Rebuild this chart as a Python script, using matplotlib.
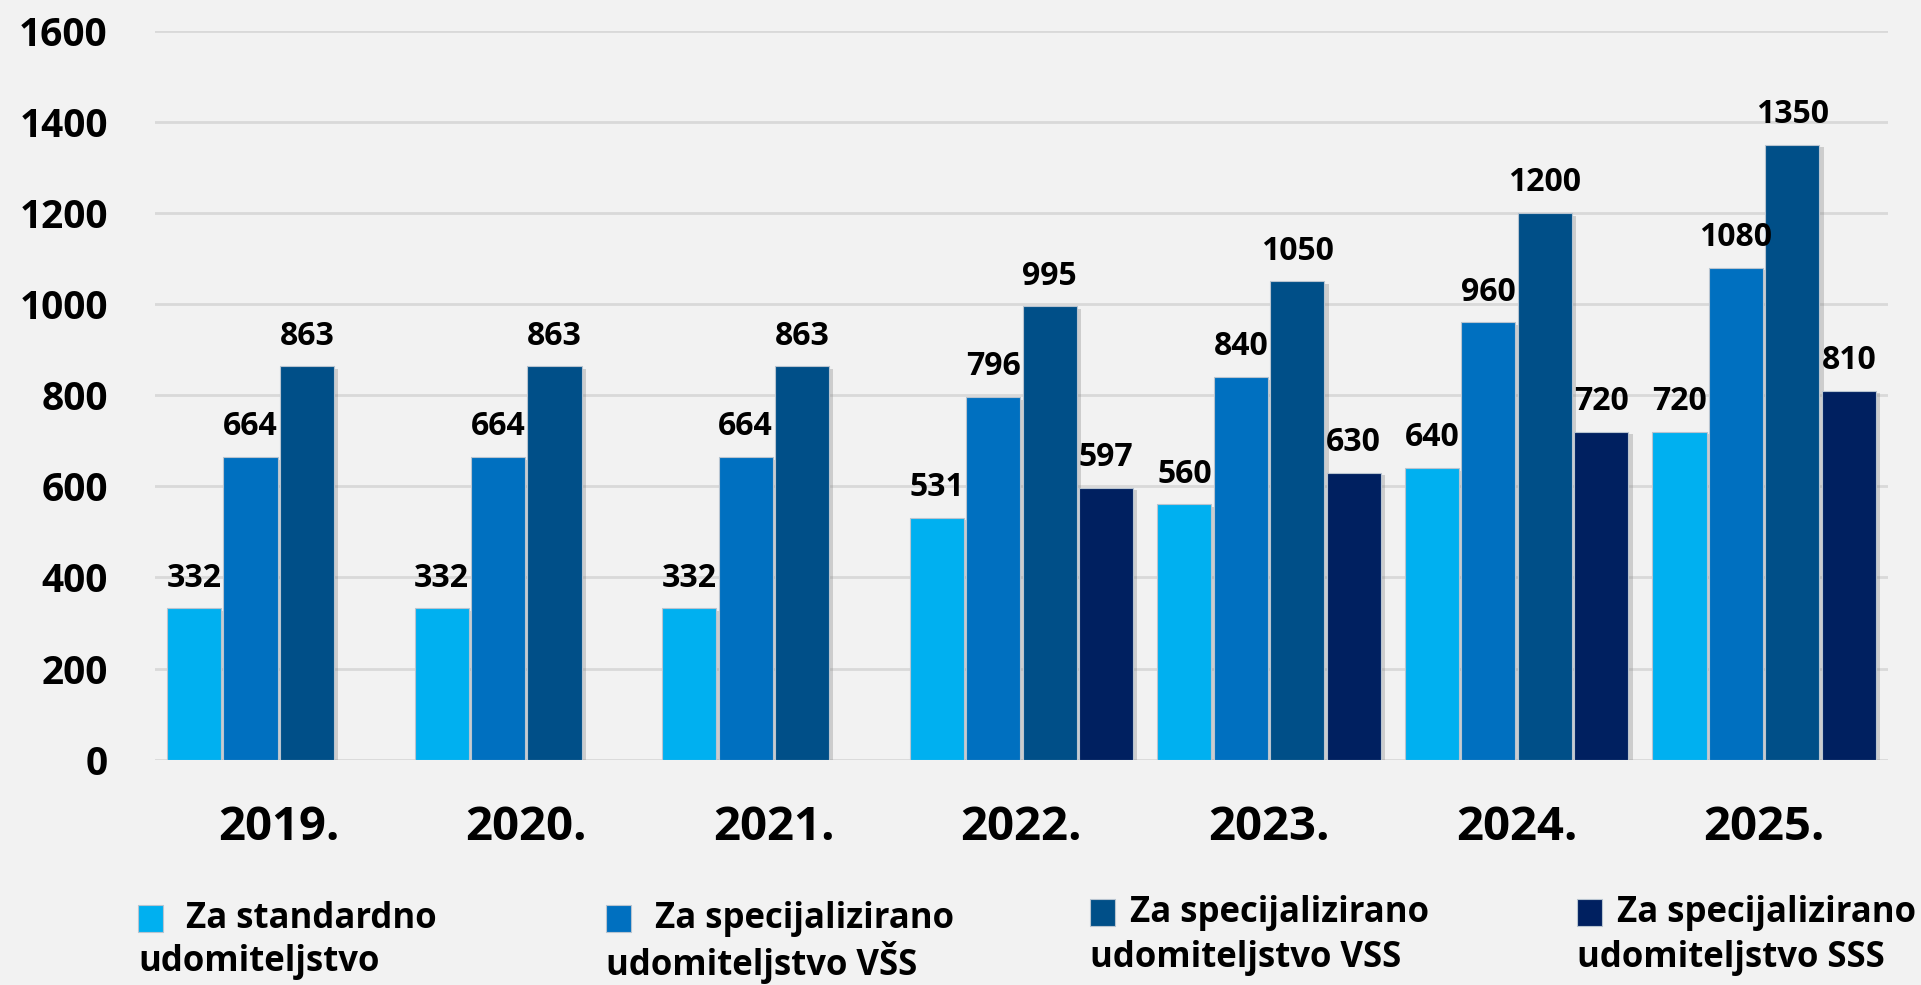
import numpy as np
import matplotlib
matplotlib.use("Agg")
import matplotlib.pyplot as plt
from matplotlib import patheffects as pe
from matplotlib.patches import Rectangle

# --- Daten ---
godine = ["2019.", "2020.", "2021.", "2022.", "2023.", "2024.", "2025."]
standardno = [332, 332, 332, 531, 560, 640, 720]
spec_vss_visa = [664, 664, 664, 796, 840, 960, 1080]
spec_vss = [863, 863, 863, 995, 1050, 1200, 1350]
spec_sss = [None, None, None, 597, 630, 720, 810]

serije = [standardno, spec_vss_visa, spec_vss, spec_sss]
naziv_1 = ["Za standardno", "Za specijalizirano", "Za specijalizirano", "Za specijalizirano"]
naziv_2 = ["udomiteljstvo", "udomiteljstvo VŠS", "udomiteljstvo VSS", "udomiteljstvo SSS"]
boje = ["#00B0F0", "#0070C0", "#004F88", "#002060"]
y_ticks = [0, 200, 400, 600, 800, 1000, 1200, 1400, 1600]

# --- Stil ---
plt.rcParams["font.family"] = ["Open Sans", "DejaVu Sans"]
plt.rcParams["font.weight"] = "bold"
bg = "#F2F2F2"

fig = plt.figure(figsize=(19.21, 9.85), dpi=100, facecolor=bg)
ax = fig.add_axes([0.0807, 0.2288, 0.9021, 0.7401], facecolor=bg)

x = np.arange(len(godine))
w = 0.228
sjena = [pe.SimplePatchShadow(offset=(3, -2), shadow_rgbFace="#888888", alpha=0.35), pe.Normal()]

for k, (vals, boja) in enumerate(zip(serije, boje)):
    for i, v in enumerate(vals):
        if v is None:
            continue
        xc = x[i] + (k - 1.5) * w
        b = ax.bar(xc, v, width=w * 0.96, color=boja, edgecolor="#B8C4D0",
                   linewidth=0.8, zorder=3)
        b[0].set_path_effects(sjena)
        ax.text(xc, v + 30, str(v), ha="center", va="bottom", fontsize=23,
                fontweight="bold", color="black", zorder=4)

ax.set_xlim(-0.5, len(godine) - 0.5)
ax.set_ylim(0, 1600)
ax.set_yticks(y_ticks)
ax.set_yticklabels([str(t) for t in y_ticks], fontsize=28, fontweight="bold")
ax.set_xticks(x)
ax.set_xticklabels(godine, fontsize=34, fontweight="bold")
ax.tick_params(axis="both", length=0)
ax.tick_params(axis="y", pad=34)
ax.tick_params(axis="x", pad=32)
ax.grid(axis="y", color="#D9D9D9", linewidth=2, zorder=0)
ax.set_axisbelow(True)
for s in ax.spines.values():
    s.set_visible(False)

# --- Legenda (ručno, tekst u dva reda) ---
W, H = 1921, 985
leg_x = [138, 606, 1090, 1577]
leg_txt_x = [186, 655, 1130, 1617]
leg_y1 = [919, 919, 913, 913]
leg_y2 = [962, 962, 958, 958]
for i in range(4):
    fig.patches.append(Rectangle((leg_x[i] / W, 1 - (leg_y1[i] + 13) / H), 25 / W, 27 / H,
                                 transform=fig.transFigure, facecolor=boje[i],
                                 edgecolor="#B8C4D0", linewidth=0.8))
    fig.text(leg_txt_x[i] / W, 1 - leg_y1[i] / H, naziv_1[i], ha="left", va="center",
             fontsize=25, fontweight="bold")
    fig.text(leg_x[i] / W, 1 - leg_y2[i] / H, naziv_2[i], ha="left", va="center",
             fontsize=25, fontweight="bold")

fig.savefig("out.png", dpi=100, facecolor=bg)
